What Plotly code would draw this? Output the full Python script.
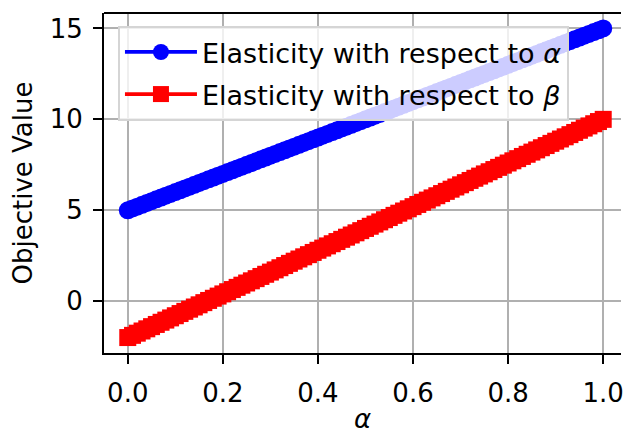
import plotly.graph_objects as go

# alpha grid (x values)
alpha = [0.00, 0.01, 0.02, 0.03, 0.04, 0.05, 0.06, 0.07, 0.08, 0.09,
         0.10, 0.11, 0.12, 0.13, 0.14, 0.15, 0.16, 0.17, 0.18, 0.19,
         0.20, 0.21, 0.22, 0.23, 0.24, 0.25, 0.26, 0.27, 0.28, 0.29,
         0.30, 0.31, 0.32, 0.33, 0.34, 0.35, 0.36, 0.37, 0.38, 0.39,
         0.40, 0.41, 0.42, 0.43, 0.44, 0.45, 0.46, 0.47, 0.48, 0.49,
         0.50, 0.51, 0.52, 0.53, 0.54, 0.55, 0.56, 0.57, 0.58, 0.59,
         0.60, 0.61, 0.62, 0.63, 0.64, 0.65, 0.66, 0.67, 0.68, 0.69,
         0.70, 0.71, 0.72, 0.73, 0.74, 0.75, 0.76, 0.77, 0.78, 0.79,
         0.80, 0.81, 0.82, 0.83, 0.84, 0.85, 0.86, 0.87, 0.88, 0.89,
         0.90, 0.91, 0.92, 0.93, 0.94, 0.95, 0.96, 0.97, 0.98, 0.99,
         1.00]

# Elasticity with respect to alpha
elast_alpha = [5.0, 5.1, 5.2, 5.3, 5.4, 5.5, 5.6, 5.7, 5.8, 5.9,
               6.0, 6.1, 6.2, 6.3, 6.4, 6.5, 6.6, 6.7, 6.8, 6.9,
               7.0, 7.1, 7.2, 7.3, 7.4, 7.5, 7.6, 7.7, 7.8, 7.9,
               8.0, 8.1, 8.2, 8.3, 8.4, 8.5, 8.6, 8.7, 8.8, 8.9,
               9.0, 9.1, 9.2, 9.3, 9.4, 9.5, 9.6, 9.7, 9.8, 9.9,
               10.0, 10.1, 10.2, 10.3, 10.4, 10.5, 10.6, 10.7, 10.8, 10.9,
               11.0, 11.1, 11.2, 11.3, 11.4, 11.5, 11.6, 11.7, 11.8, 11.9,
               12.0, 12.1, 12.2, 12.3, 12.4, 12.5, 12.6, 12.7, 12.8, 12.9,
               13.0, 13.1, 13.2, 13.3, 13.4, 13.5, 13.6, 13.7, 13.8, 13.9,
               14.0, 14.1, 14.2, 14.3, 14.4, 14.5, 14.6, 14.7, 14.8, 14.9,
               15.0]

# Elasticity with respect to beta
elast_beta = [-2.00, -1.88, -1.76, -1.64, -1.52, -1.40, -1.28, -1.16, -1.04, -0.92,
              -0.80, -0.68, -0.56, -0.44, -0.32, -0.20, -0.08, 0.04, 0.16, 0.28,
              0.40, 0.52, 0.64, 0.76, 0.88, 1.00, 1.12, 1.24, 1.36, 1.48,
              1.60, 1.72, 1.84, 1.96, 2.08, 2.20, 2.32, 2.44, 2.56, 2.68,
              2.80, 2.92, 3.04, 3.16, 3.28, 3.40, 3.52, 3.64, 3.76, 3.88,
              4.00, 4.12, 4.24, 4.36, 4.48, 4.60, 4.72, 4.84, 4.96, 5.08,
              5.20, 5.32, 5.44, 5.56, 5.68, 5.80, 5.92, 6.04, 6.16, 6.28,
              6.40, 6.52, 6.64, 6.76, 6.88, 7.00, 7.12, 7.24, 7.36, 7.48,
              7.60, 7.72, 7.84, 7.96, 8.08, 8.20, 8.32, 8.44, 8.56, 8.68,
              8.80, 8.92, 9.04, 9.16, 9.28, 9.40, 9.52, 9.64, 9.76, 9.88,
              10.00]

x_ticks = [0.0, 0.2, 0.4, 0.6, 0.8, 1.0]
y_ticks = [0, 5, 10, 15]

FONT = "DejaVu Sans"
FS = 26
FS_LEG = 27

fig = go.Figure()
fig.add_trace(go.Scatter(
    x=alpha, y=elast_alpha, mode="lines+markers",
    name="Elasticity with respect to <i>α</i>",
    line=dict(color="blue", width=3.75),
    marker=dict(symbol="circle", size=18, color="blue", line=dict(width=0)),
    legendgroup="a",
))
fig.add_trace(go.Scatter(
    x=alpha, y=elast_beta, mode="lines+markers",
    name="Elasticity with respect to <i>β</i>",
    line=dict(color="red", width=3.75),
    marker=dict(symbol="square", size=17, color="red", line=dict(width=0)),
    legendgroup="b",
))

axis_common = dict(
    showgrid=True, gridcolor="#b0b0b0", gridwidth=2,
    showline=True, linecolor="black", linewidth=2,
    ticks="outside", ticklen=9, tickwidth=2, tickcolor="black",
    zeroline=False,
    tickfont=dict(family=FONT, size=FS, color="black"),
)

fig.update_xaxes(
    range=[-0.05, 1.0374], tickvals=x_ticks, tickformat=".1f",
    ticklabelstandoff=7, ticklabeloverflow="allow",
    title=dict(text="<i>α</i>", font=dict(family=FONT, size=FS, color="black"), standoff=4),
    **axis_common,
)
fig.update_yaxes(
    range=[-2.85, 15.85], tickvals=y_ticks,
    ticklabelstandoff=5,
    title=dict(text="Objective Value", font=dict(family=FONT, size=26, color="black"), standoff=10),
    **axis_common,
)

fig.add_shape(type="line", xref="paper", yref="paper", x0=0, x1=1, y0=1, y1=1,
              line=dict(color="black", width=2))

fig.update_layout(
    width=624, height=434,
    margin=dict(l=104, r=0, t=13, b=81),
    paper_bgcolor="white", plot_bgcolor="white",
    font=dict(family=FONT, size=FS, color="black"),
    showlegend=True,
    legend=dict(
        x=0.027, y=0.962, xanchor="left", yanchor="top",
        bgcolor="rgba(255,255,255,0.8)", bordercolor="#d5d5d5", borderwidth=2,
        font=dict(family=FONT, size=FS_LEG, color="black"),
        itemwidth=72, tracegroupgap=4,
    ),
)

# remove the default page margin so the figure fills the window exactly
fig.write_html(
    "out.html",
    config={"displayModeBar": False},
    post_script="document.body.style.margin='0';document.body.style.overflow='hidden';",
)
